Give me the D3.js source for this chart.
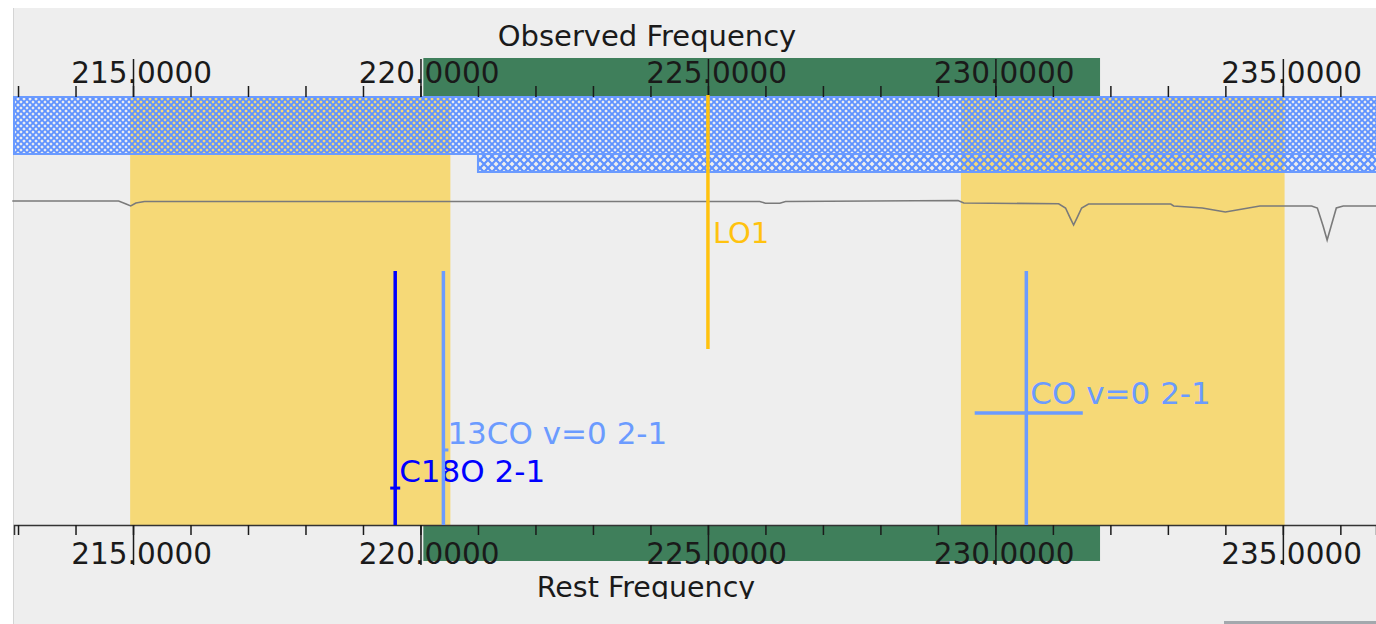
<!DOCTYPE html>
<html>
<head>
<meta charset="utf-8">
<script src="https://cdn.jsdelivr.net/npm/d3@7"></script>
<style>
  body { margin: 0; background: #fff; }
  svg { display: block; font-family: "DejaVu Sans", sans-serif; }
</style>
</head>
<body>
<div class="chart"></div>
<script>
// frequency axes (GHz)
var minorTicks = d3.range(213, 237);
var majorTicks = [215, 220, 225, 230, 235];

// shaded ranges
var obsBand = [220.05, 231.82];
var yellowBands = [[214.95, 220.52], [229.40, 235.03]];
var hatchBands = [[212.93, 237.5], [221.0, 237.5]];

// spectral lines
var lineNames = ["C18O 2-1", "13CO v=0 2-1", "CO v=0 2-1"];
var lineFreqs = [219.5604, 220.3987, 230.538];
var coBar = [229.64, 231.52];
var loName = "LO1";
var loFreq = 225.0;

// atmospheric transmission trace
var atmFreq = [212.9, 214.75, 214.88, 214.96, 215.05, 215.2, 225.9, 226.0, 226.25, 226.35,
  229.35, 229.45, 231.1, 231.22, 231.3, 231.36, 231.42, 231.5, 231.62, 233.05, 233.1,
  233.6, 233.8, 234.0, 234.2, 234.4, 234.6, 235.5, 235.6, 235.7, 235.77, 235.84, 235.93,
  236.05, 236.2, 236.7];
var atmTrans = [0.908, 0.908, 0.883, 0.867, 0.892, 0.904, 0.904, 0.89, 0.89, 0.904,
  0.912, 0.892, 0.885, 0.85, 0.767, 0.708, 0.767, 0.85, 0.883, 0.883, 0.867,
  0.85, 0.833, 0.817, 0.833, 0.85, 0.867, 0.867, 0.85, 0.7, 0.583, 0.7, 0.85,
  0.867, 0.867, 0.867];

var width = 1376, height = 624,
    topY = 97, botY = 525,
    labelLevels = [0.169, 0.319, 0.476];

var x = d3.scaleLinear().domain([212.93, 236.62]).range([14, 1376]);
var yAtm = d3.scaleLinear().domain([0, 1]).range([310, 190]);
var yLine = d3.scaleLinear().domain([0, 1]).range([botY, 271]);
var lineColor = d3.scaleOrdinal().domain(lineNames).range(["#0000ff", "#6b9bff", "#6b9bff"]);

var svg = d3.select(".chart").append("svg")
    .attr("width", width)
    .attr("height", height);

var defs = svg.append("defs");
defs.append("pattern").attr("id", "hatchA")
    .attr("width", 6).attr("height", 6).attr("patternUnits", "userSpaceOnUse")
  .append("path").attr("d", "M0,0L6,6M6,0L0,6")
    .attr("stroke", "#5f92ff").attr("stroke-width", 1.9);
defs.append("pattern").attr("id", "hatchB")
    .attr("width", 8).attr("height", 8).attr("patternUnits", "userSpaceOnUse")
  .append("path").attr("d", "M0,0L8,8M8,0L0,8")
    .attr("stroke", "#5f92ff").attr("stroke-width", 2.2);
defs.append("clipPath").attr("id", "clipBottom")
  .append("rect").attr("x", 0).attr("y", 0).attr("width", width).attr("height", 599);

// panel
svg.append("rect").attr("x", 13).attr("y", 8).attr("width", width - 13).attr("height", height - 8)
    .attr("fill", "#eeeeee");
svg.append("line").attr("x1", 13.5).attr("x2", 13.5).attr("y1", 8).attr("y2", height)
    .attr("stroke", "#d4d4d4");
svg.append("rect").attr("x", 1224).attr("y", 621).attr("width", 152).attr("height", 3)
    .attr("fill", "#a3a8ad");

// yellow ranges
svg.selectAll(".yellow").data(yellowBands).enter().append("rect")
    .attr("class", "yellow")
    .attr("x", function(d) { return x(d[0]); })
    .attr("width", function(d) { return x(d[1]) - x(d[0]); })
    .attr("y", topY).attr("height", botY - topY)
    .attr("fill", "#f6d977");

// observed band on both axes
svg.append("rect").attr("x", x(obsBand[0])).attr("width", x(obsBand[1]) - x(obsBand[0]))
    .attr("y", 58).attr("height", topY - 58).attr("fill", "#3f7f5b");
svg.append("rect").attr("x", x(obsBand[0])).attr("width", x(obsBand[1]) - x(obsBand[0]))
    .attr("y", botY).attr("height", 36).attr("fill", "#3f7f5b");

// hatched bands
var hatchY = [[topY, 154], [154, 172]];
svg.selectAll(".hatch").data(hatchBands).enter().append("rect")
    .attr("class", "hatch")
    .attr("x", function(d) { return x(d[0]); })
    .attr("width", function(d) { return x(d[1]) - x(d[0]); })
    .attr("y", function(d, i) { return hatchY[i][0]; })
    .attr("height", function(d, i) { return hatchY[i][1] - hatchY[i][0]; })
    .attr("fill", function(d, i) { return i == 0 ? "url(#hatchA)" : "url(#hatchB)"; })
    .attr("stroke", "#6b9bff").attr("stroke-width", 2);

// atmosphere
var atm = atmFreq.map(function(f, i) { return [f, atmTrans[i]]; });
svg.append("path").datum(atm)
    .attr("fill", "none").attr("stroke", "#7a7a7a").attr("stroke-width", 1.6)
    .attr("d", d3.line().x(function(d) { return x(d[0]); }).y(function(d) { return yAtm(d[1]); }));

// axes
var topMinor = d3.axisTop(x).tickValues(minorTicks).tickSize(11).tickFormat("");
var topMajor = d3.axisTop(x).tickValues(majorTicks).tickSize(38).tickFormat("");
var botMinor = d3.axisBottom(x).tickValues(minorTicks).tickSize(10).tickFormat("");
var botMajor = d3.axisBottom(x).tickValues(majorTicks).tickSize(40).tickFormat("");

function styleAxis(g) {
  g.selectAll(".tick line").attr("stroke", "#1a1a1a").attr("stroke-width", 1.5);
}
svg.append("g").attr("transform", "translate(0," + topY + ")").call(topMinor)
    .call(function(g) { g.select(".domain").remove(); }).call(styleAxis);
svg.append("g").attr("transform", "translate(0," + topY + ")").call(topMajor)
    .call(function(g) { g.select(".domain").remove(); }).call(styleAxis);
svg.append("g").attr("transform", "translate(0," + botY + ")").call(botMinor)
    .call(function(g) { g.select(".domain").attr("stroke", "#333").attr("stroke-width", 1.5); })
    .call(styleAxis);
svg.append("g").attr("transform", "translate(0," + botY + ")").call(botMajor)
    .call(function(g) { g.select(".domain").remove(); }).call(styleAxis);

// tick labels, decimal point sits on the tick
function tickLabels(yBase) {
  var g = svg.append("g").attr("font-size", 29.5).attr("fill", "#1a1a1a");
  g.selectAll(".int").data(majorTicks).enter().append("text")
      .attr("x", function(d) { return x(d) + 4; })
      .attr("y", yBase)
      .attr("text-anchor", "end")
      .text(function(d) { return d3.format(".4f")(d).split(".")[0] + "."; });
  g.selectAll(".dec").data(majorTicks).enter().append("text")
      .attr("x", function(d) { return x(d) + 4; })
      .attr("y", yBase)
      .text(function(d) { return d3.format(".4f")(d).split(".")[1]; });
}
tickLabels(83);
tickLabels(564);

svg.append("text").attr("x", 647).attr("y", 46).attr("text-anchor", "middle")
    .attr("font-size", 29).attr("fill", "#1a1a1a").text("Observed Frequency");
svg.append("text").attr("x", 646).attr("y", 597).attr("text-anchor", "middle")
    .attr("clip-path", "url(#clipBottom)")
    .attr("font-size", 28.5).attr("fill", "#1a1a1a").text("Rest Frequency");

// LO marker
svg.append("line").attr("x1", x(loFreq)).attr("x2", x(loFreq))
    .attr("y1", 95).attr("y2", 349)
    .attr("stroke", "#ffc20e").attr("stroke-width", 3.5);
svg.append("text").attr("x", x(loFreq) + 5).attr("y", 243)
    .attr("font-size", 29).attr("fill", "#ffc20e").text(loName);

// spectral lines: each label first, then its line, so later lines sit over earlier labels
lineNames.forEach(function(name, i) {
  var fx = x(lineFreqs[i]), ly = yLine(labelLevels[i]);
  svg.append("text").attr("x", fx + 4).attr("y", ly)
      .attr("font-size", 31).attr("fill", lineColor(name)).text(name);
  svg.append("line").attr("x1", fx).attr("x2", fx)
      .attr("y1", yLine(1)).attr("y2", yLine(0))
      .attr("stroke", lineColor(name)).attr("stroke-width", 3.5);
  if (i < 2) {
    svg.append("line").attr("x1", fx - (i == 0 ? 5 : 0)).attr("x2", fx + 5)
        .attr("y1", ly + 6).attr("y2", ly + 6)
        .attr("stroke", lineColor(name)).attr("stroke-width", 3);
  }
});

// CO width bar
svg.append("line").attr("x1", x(coBar[0])).attr("x2", x(coBar[1]))
    .attr("y1", 413).attr("y2", 413)
    .attr("stroke", lineColor(lineNames[2])).attr("stroke-width", 3.5);
</script>
</body>
</html>
